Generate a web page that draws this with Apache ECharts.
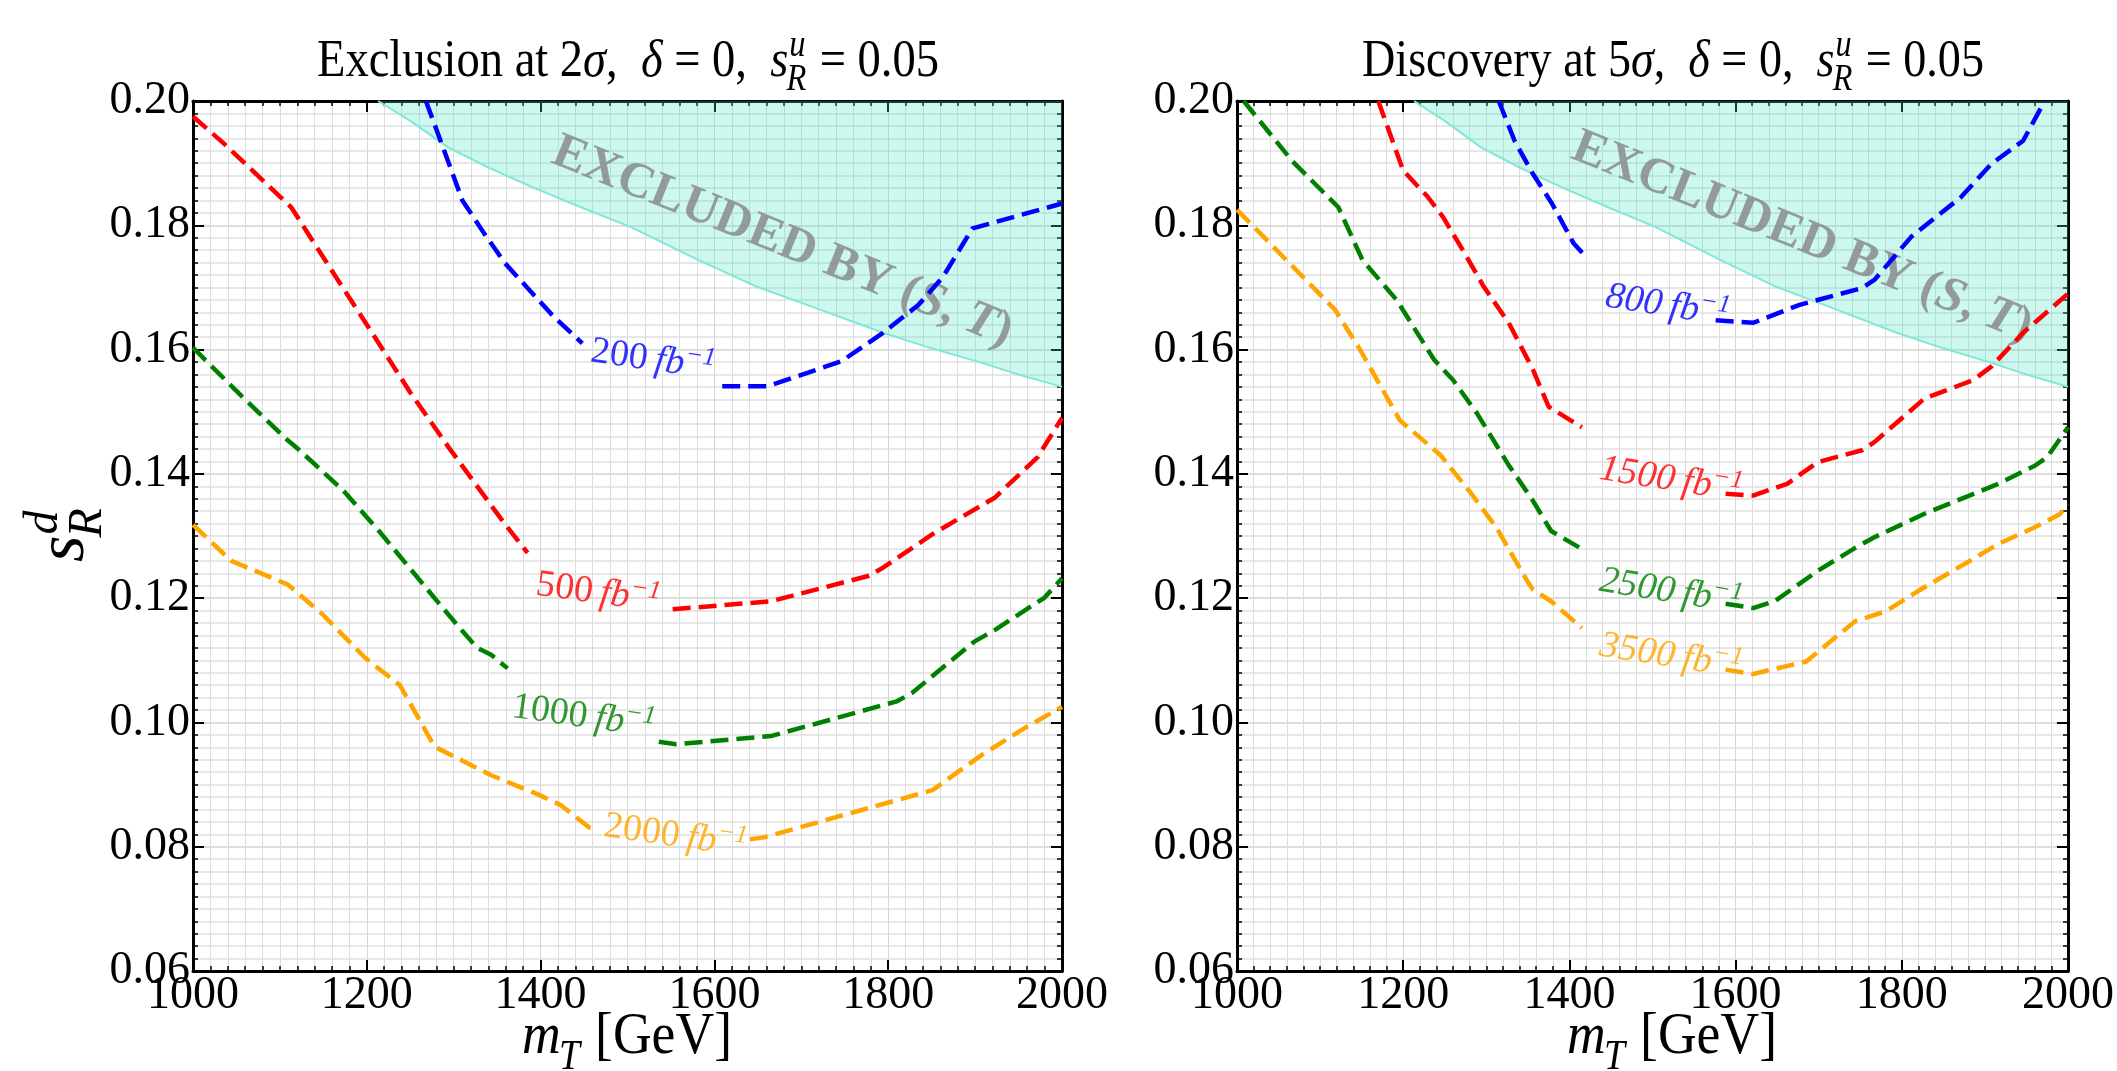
<!DOCTYPE html>
<html>
<head>
<meta charset="utf-8">
<script src="https://cdn.jsdelivr.net/npm/echarts@6/dist/echarts.min.js"></script>
<style>
  html, body { margin: 0; background: #fff; overflow: hidden; }
  #chart { width: 2117px; height: 1071px; }
</style>
</head>
<body>
<div id="chart"></div>
<script>
// boundary of the region excluded by (S, T), same in both panels
const excludedBoundary = [[1213, 0.2000], [1250, 0.1968], [1294, 0.1925], [1340, 0.1893], [1391, 0.1861],
  [1450, 0.1827], [1504, 0.1797], [1580, 0.1745], [1649, 0.1701], [1720, 0.1665], [1794, 0.1627],
  [1850, 0.1602], [1907, 0.1579], [1950, 0.1560], [2000, 0.1540]];

// exclusion at 2 sigma, each contour = [part before label, part after label]
const excl200 = [
  [[1268, 0.2000], [1282, 0.1947], [1310, 0.1840], [1335, 0.1787], [1359, 0.1739], [1415, 0.1653], [1448, 0.1610]],
  [[1609, 0.1541], [1661, 0.1541], [1746, 0.1581], [1794, 0.1627], [1835, 0.1672], [1863, 0.1717], [1897, 0.1795], [2000, 0.1835]]
];
const excl500 = [
  [[1000, 0.1975], [1036, 0.1931], [1101, 0.1845], [1113, 0.1829], [1157, 0.1733], [1206, 0.1627], [1250, 0.1531],
   [1294, 0.1443], [1359, 0.1319], [1385, 0.1273]],
  [[1552, 0.1182], [1665, 0.1195], [1778, 0.1236], [1794, 0.1249], [1851, 0.1303], [1923, 0.1362], [1972, 0.1427], [2000, 0.1490]]
];
const excl1000 = [
  [[1000, 0.1603], [1056, 0.1525], [1109, 0.1454], [1121, 0.1440], [1173, 0.1373], [1214, 0.1308], [1246, 0.1254],
   [1278, 0.1200], [1310, 0.1147], [1327, 0.1120], [1343, 0.1109], [1362, 0.1087]],
  [[1536, 0.0969], [1556, 0.0965], [1665, 0.0978], [1810, 0.1034], [1827, 0.1047], [1899, 0.1130], [1923, 0.1149],
   [1980, 0.1201], [2000, 0.1232]]
];
const excl2000 = [
  [[1000, 0.1318], [1044, 0.1260], [1109, 0.1222], [1149, 0.1174], [1198, 0.1104], [1238, 0.1060], [1278, 0.0961],
   [1343, 0.0915], [1399, 0.0883], [1423, 0.0867], [1456, 0.0831], [1464, 0.0829]],
  [[1641, 0.0812], [1657, 0.0815], [1851, 0.0891], [1867, 0.0907], [1907, 0.0947], [1956, 0.0990], [2000, 0.1025]]
];

// discovery at 5 sigma
const disc800 = [
  [[1315, 0.2000], [1334, 0.1936], [1356, 0.1883], [1379, 0.1835], [1405, 0.1771], [1420, 0.1749]],
  [[1576, 0.1647], [1621, 0.1643], [1677, 0.1672], [1752, 0.1699], [1767, 0.1712], [1811, 0.1781], [1871, 0.1845],
   [1908, 0.1899], [1946, 0.1936], [1972, 0.2000]]
];
const disc1500 = [
  [[1170, 0.2000], [1200, 0.1888], [1230, 0.1845], [1248, 0.1813], [1274, 0.1755], [1297, 0.1701], [1327, 0.1643],
   [1356, 0.1568], [1375, 0.1508], [1415, 0.1475]],
  [[1588, 0.1368], [1621, 0.1365], [1662, 0.1384], [1699, 0.1419], [1752, 0.1438], [1767, 0.1451], [1827, 0.1521],
   [1886, 0.1551], [1908, 0.1573], [1946, 0.1627], [2000, 0.1690]]
];
const disc2500 = [
  [[1008, 0.2000], [1066, 0.1904], [1122, 0.1829], [1151, 0.1744], [1192, 0.1680], [1237, 0.1584], [1260, 0.1551],
   [1289, 0.1497], [1326, 0.1416], [1356, 0.1357], [1378, 0.1308], [1415, 0.1279]],
  [[1588, 0.1191], [1621, 0.1184], [1647, 0.1195], [1699, 0.1244], [1744, 0.1281], [1767, 0.1298], [1826, 0.1335],
   [1916, 0.1384], [1960, 0.1413], [1975, 0.1427], [2000, 0.1475]]
];
const disc3500 = [
  [[1000, 0.1825], [1036, 0.1776], [1118, 0.1664], [1148, 0.1600], [1196, 0.1486], [1245, 0.1430], [1282, 0.1368],
   [1312, 0.1314], [1349, 0.1228], [1356, 0.1214], [1378, 0.1195], [1415, 0.1152]],
  [[1588, 0.1085], [1621, 0.1078], [1685, 0.1098], [1744, 0.1163], [1781, 0.1179], [1819, 0.1211], [1878, 0.1257],
   [1916, 0.1287], [1960, 0.1314], [1990, 0.1335], [2000, 0.1351]]
];

// inline contour labels (luminosity in fb^-1) and where they sit
const exclLumi = ['200', '500', '1000', '2000'];
const exclLabelAt = [[1529, 0.1583], [1466, 0.1208], [1449, 0.1009], [1555, 0.0817]];
const discLumi = ['800', '1500', '2500', '3500'];
const discLabelAt = [[1518, 0.1670], [1522, 0.1390], [1522, 0.1210], [1522, 0.1106]];
const excludedTextAt = [[1678, 0.1773], [1680, 0.1780]];

const COLORS = ['#0000ff', '#ff0000', '#008000', '#ffa500'];
const SERIF = "'Liberation Serif', 'DejaVu Serif', serif";

// --- small helper for TeX-like titles (graphic text) ---
const ctx2d = document.createElement('canvas').getContext('2d');
function widthOf(t, size, it) {
  ctx2d.font = (it ? 'italic ' : '') + size + 'px ' + SERIF;
  return ctx2d.measureText(t).width;
}
function mathText(pieces, size, o) {
  const kids = [];
  let x = 0;
  const put = (t, px, base, sz, it) => kids.push({
    type: 'text', x: px, y: base - 0.34 * sz,
    style: { text: t, font: (it ? 'italic ' : '') + sz + 'px ' + SERIF, fill: '#000', align: 'left', verticalAlign: 'middle' }
  });
  pieces.forEach(p => {
    put(p.t, x, 0, size, p.it);
    x += widthOf(p.t, size, p.it);
    if (p.sup || p.sub) {
      const s = Math.round(size * 0.7);
      let w = 0;
      if (p.sup) { put(p.sup, x + 1, -0.40 * size, s, true); w = Math.max(w, widthOf(p.sup, s, true) + 1); }
      if (p.sub) { put(p.sub, x - 2, 0.24 * size, s, true); w = Math.max(w, widthOf(p.sub, s, true) - 2); }
      x += w + 2;
    }
  });
  const sx = o.width ? o.width / x : (o.sx || 1);
  if (o.rot) {
    return { type: 'group', x: o.base, y: o.cy + x * sx / 2, rotation: o.rot, scaleX: sx, children: kids, silent: true };
  }
  return { type: 'group', x: o.cx - x * sx / 2, y: o.base, scaleX: sx, children: kids, silent: true };
}

const grids = [
  { left: 193, top: 101, width: 869, height: 870 },
  { left: 1237, top: 101, width: 871, height: 870 }
];

const frame = { show: true, onZero: false, lineStyle: { color: '#000', width: 3 } };
const majorTick = { show: true, inside: true, length: 11, lineStyle: { color: '#000', width: 2 } };
const minorTick = { show: true, splitNumber: 10, length: 5, lineStyle: { color: '#000', width: 1.5 } };
const tickFont = { color: '#000', fontFamily: SERIF, fontSize: 46 };

const xAxis = [], yAxis = [];
grids.forEach((g, gi) => {
  xAxis.push({
    type: 'value', gridIndex: gi, position: 'bottom', min: 1000, max: 2000, interval: 200,
    axisLine: frame, axisTick: majorTick, minorTick: minorTick,
    axisLabel: Object.assign({ margin: 2, formatter: v => String(v) }, tickFont),
    splitLine: { show: true, lineStyle: { color: '#d6d6d6', width: 1 } },
    minorSplitLine: { show: true, lineStyle: { color: '#dcdcdc', width: 1 } }
  });
  xAxis.push({
    type: 'value', gridIndex: gi, position: 'top', min: 1000, max: 2000, interval: 200,
    axisLine: frame, axisTick: majorTick, minorTick: minorTick,
    axisLabel: { show: false }, splitLine: { show: false }
  });
  yAxis.push({
    type: 'value', gridIndex: gi, position: 'left', min: 0.06, max: 0.20, interval: 0.02,
    axisLine: frame, axisTick: majorTick, minorTick: minorTick,
    axisLabel: Object.assign({ margin: 3, formatter: v => v.toFixed(2) }, tickFont),
    splitLine: { show: true, lineStyle: { color: '#d2d2d2', width: 1.5 } },
    minorSplitLine: { show: true, lineStyle: { color: '#e0e0e0', width: 1.5 } }
  });
  yAxis.push({
    type: 'value', gridIndex: gi, position: 'right', min: 0.06, max: 0.20, interval: 0.02,
    axisLine: frame, axisTick: majorTick, minorTick: minorTick,
    axisLabel: { show: false }, splitLine: { show: false }
  });
});

const series = [];
function addPanel(gi, contours, lumi, labelAt, italicNum) {
  const ax = { xAxisIndex: gi * 2, yAxisIndex: gi * 2 };
  series.push(Object.assign({
    type: 'line', data: excludedBoundary, symbol: 'none', silent: true, z: 1,
    lineStyle: { color: '#7fe9d5', width: 2 },
    areaStyle: { color: 'rgba(64,228,196,0.38)', origin: 'end' }
  }, ax));
  series.push(Object.assign({
    type: 'scatter', symbolSize: 0, silent: true, z: 2,
    data: [{
      value: excludedTextAt[gi],
      label: {
        show: true, position: 'inside', rotate: -22,
        formatter: 'EXCLUDED BY ({i|S}, {i|T})',
        color: '#858585', fontFamily: SERIF, fontSize: 50, fontWeight: 'bold',
        rich: { i: { color: '#858585', fontFamily: SERIF, fontSize: 50, fontWeight: 'bold', fontStyle: 'italic' } }
      }
    }]
  }, ax));
  contours.forEach((c, ci) => {
    c.forEach(seg => {
      series.push(Object.assign({
        type: 'line', data: seg, symbol: 'none', silent: true, z: 3,
        lineStyle: { color: COLORS[ci], width: 4.5, type: [18, 8], cap: 'butt' }
      }, ax));
    });
  });
  series.push(Object.assign({
    type: 'scatter', symbolSize: 0, silent: true, z: 4,
    data: labelAt.map((p, i) => ({
      value: p,
      label: {
        show: true, position: 'inside', rotate: gi === 0 ? -8 : -9,
        formatter: '{n|' + lumi[i] + '\u2009}{f|fb}{s|\u22121}',
        rich: {
          n: { color: COLORS[i], fontFamily: SERIF, fontSize: 38, lineHeight: 46, fontStyle: italicNum ? 'italic' : 'normal' },
          f: { color: COLORS[i], fontFamily: SERIF, fontSize: 38, lineHeight: 46, fontStyle: 'italic' },
          s: { color: COLORS[i], fontFamily: SERIF, fontSize: 26, lineHeight: 25, verticalAlign: 'top', fontStyle: 'italic' }
        }
      }
    }))
  }, ax));
}
addPanel(0, [excl200, excl500, excl1000, excl2000], exclLumi, exclLabelAt, false);
addPanel(1, [disc800, disc1500, disc2500, disc3500], discLumi, discLabelAt, true);

const graphic = [
  mathText([{ t: 'Exclusion at 2' }, { t: '\u03c3', it: 1 }, { t: ',  ' }, { t: '\u03b4', it: 1 }, { t: ' = 0,  ' },
    { t: 's', it: 1, sup: 'u', sub: 'R' }, { t: ' = 0.05' }], 53, { cx: 628, base: 80, width: 622 }),
  mathText([{ t: 'Discovery at 5' }, { t: '\u03c3', it: 1 }, { t: ',  ' }, { t: '\u03b4', it: 1 }, { t: ' = 0,  ' },
    { t: 's', it: 1, sup: 'u', sub: 'R' }, { t: ' = 0.05' }], 53, { cx: 1673, base: 80, width: 622 }),
  mathText([{ t: 'm', it: 1, sub: 'T' }, { t: ' [GeV]' }], 60, { cx: 627, base: 1058, width: 210 }),
  mathText([{ t: 'm', it: 1, sub: 'T' }, { t: ' [GeV]' }], 60, { cx: 1672, base: 1058, width: 210 }),
  mathText([{ t: 's', it: 1, sup: 'd', sub: 'R' }], 68, { base: 88, cy: 534, rot: Math.PI / 2 })
];

const chart = echarts.init(document.getElementById('chart'), null, { renderer: 'canvas' });
chart.setOption({
  animation: false,
  backgroundColor: '#fff',
  grid: grids,
  xAxis: xAxis,
  yAxis: yAxis,
  series: series,
  graphic: { elements: graphic }
});
</script>
</body>
</html>
